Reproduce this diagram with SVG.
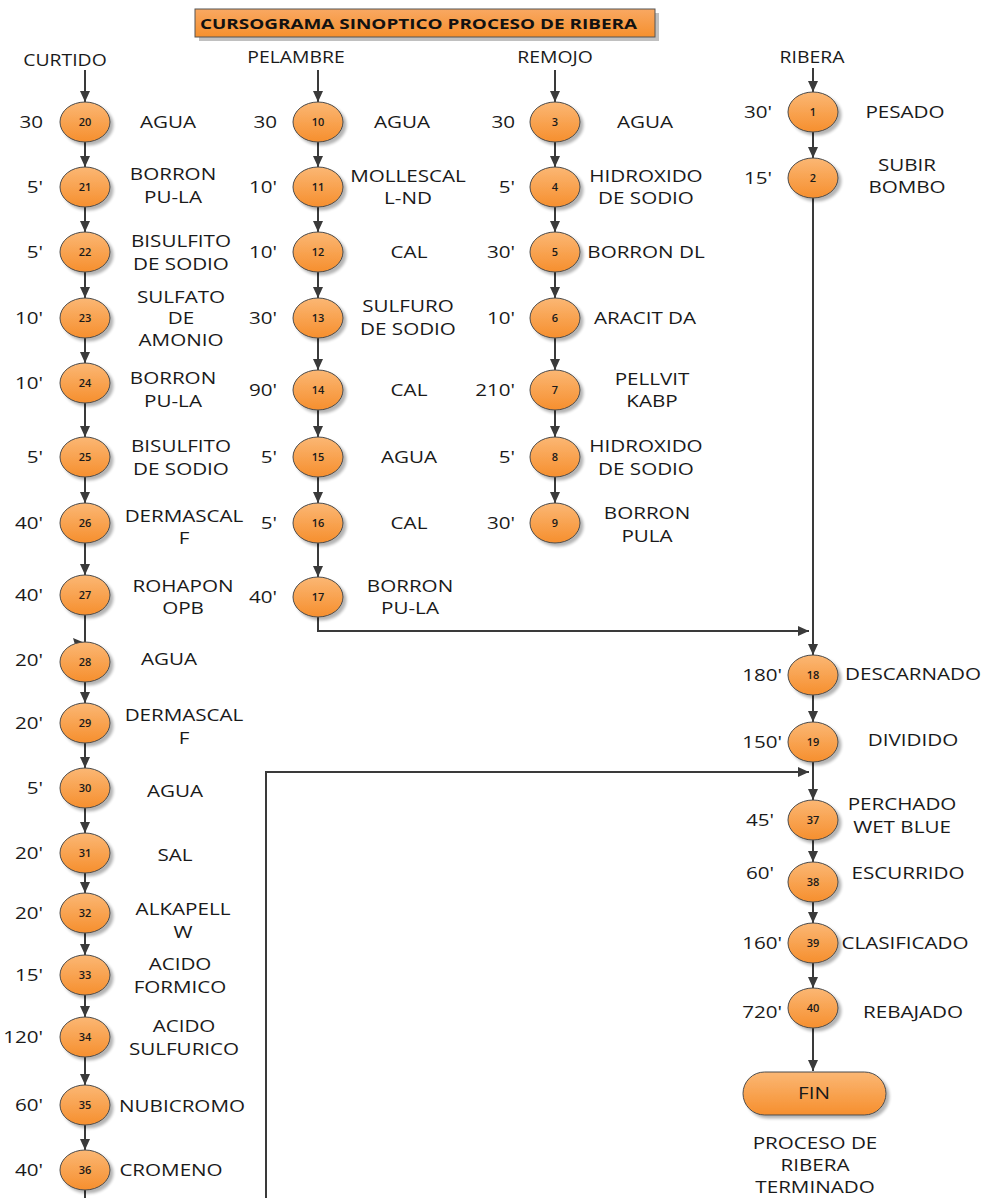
<svg xmlns="http://www.w3.org/2000/svg" width="985" height="1198" viewBox="0 0 985 1198">
  <defs>
    <linearGradient id="og" x1="0" y1="0" x2="0" y2="1">
      <stop offset="0" stop-color="#FBB774"/>
      <stop offset="1" stop-color="#F68F2E"/>
    </linearGradient>
    <linearGradient id="tg" x1="0" y1="0" x2="0" y2="1">
      <stop offset="0" stop-color="#F9A862"/>
      <stop offset="1" stop-color="#F5902E"/>
    </linearGradient>
    <filter id="sh" x="-30%" y="-30%" width="170%" height="170%">
      <feGaussianBlur in="SourceAlpha" stdDeviation="1.5"/>
      <feOffset dx="3" dy="3" result="b"/>
      <feComponentTransfer><feFuncA type="linear" slope="0.3"/></feComponentTransfer>
      <feMerge><feMergeNode/><feMergeNode in="SourceGraphic"/></feMerge>
    </filter>
    <marker id="ah" markerUnits="userSpaceOnUse" markerWidth="12" markerHeight="10" refX="11" refY="5" orient="auto">
      <path d="M0,0 L11,5 L0,10 z" fill="#3A3A3A"/>
    </marker>
  </defs>
  <style>
    .node ellipse, .pill { fill:url(#og); stroke:#4A4A4A; stroke-width:1; filter:url(#sh); }
    .num { font-family:"Open Sans","Liberation Sans",sans-serif; font-size:11px; font-weight:600; fill:#1A1A1A; text-anchor:middle; }
    .lbl { font-family:"Open Sans","Liberation Sans",sans-serif; font-size:16.5px; fill:#1A1A1A; text-anchor:middle; }
    .tm { font-family:"Open Sans","Liberation Sans",sans-serif; font-size:16.5px; fill:#1A1A1A; text-anchor:end; }
    .hd { font-family:"Open Sans","Liberation Sans",sans-serif; font-size:15.5px; fill:#1A1A1A; text-anchor:middle; }
    .conn path, .conn line, .conn polyline { fill:none; stroke:#3A3A3A; stroke-width:2; }
    .arr { marker-end:url(#ah); }
  </style>

  <!-- title banner -->
  <g id="title">
    <rect x="199" y="13" width="460" height="28" fill="#8C8C8C" opacity="0.55"/>
    <rect x="195" y="9" width="460" height="28" fill="url(#tg)" stroke="#555" stroke-width="1"/>
    <text x="200" y="29" textLength="437" lengthAdjust="spacingAndGlyphs" font-family="'Open Sans','Liberation Sans',sans-serif" font-size="15" font-weight="bold" fill="#111">CURSOGRAMA SINOPTICO PROCESO DE RIBERA</text>
  </g>

  <!-- column headers -->
  <g id="headers">
    <text class="hd" transform="translate(65 66) scale(1.25 1)">CURTIDO</text>
    <text class="hd" transform="translate(296 63) scale(1.25 1)">PELAMBRE</text>
    <text class="hd" transform="translate(555 63) scale(1.25 1)">REMOJO</text>
    <text class="hd" transform="translate(812 63) scale(1.25 1)">RIBERA</text>
  </g>

  <!-- connectors -->
  <g id="connectors" class="conn">
    <!-- CURTIDO column -->
    <line class="arr" x1="85" y1="70" x2="85" y2="102"/>
    <line class="arr" x1="85" y1="142" x2="85" y2="167"/>
    <line class="arr" x1="85" y1="207" x2="85" y2="232"/>
    <line class="arr" x1="85" y1="272" x2="85" y2="298"/>
    <line class="arr" x1="85" y1="338" x2="85" y2="363"/>
    <line class="arr" x1="85" y1="403" x2="85" y2="437"/>
    <line class="arr" x1="85" y1="477" x2="85" y2="503"/>
    <line class="arr" x1="85" y1="543" x2="85" y2="575"/>
    <line x1="85" y1="615" x2="85" y2="644"/>
    <polygon points="73,638 85,643 76,648" fill="#3A3A3A" stroke="none"/>
    <line class="arr" x1="85" y1="682" x2="85" y2="703"/>
    <line class="arr" x1="85" y1="743" x2="85" y2="768"/>
    <line class="arr" x1="85" y1="808" x2="85" y2="833"/>
    <line class="arr" x1="85" y1="873" x2="85" y2="893"/>
    <line class="arr" x1="85" y1="933" x2="85" y2="955"/>
    <line class="arr" x1="85" y1="995" x2="85" y2="1017"/>
    <line class="arr" x1="85" y1="1057" x2="85" y2="1085"/>
    <line class="arr" x1="85" y1="1125" x2="85" y2="1150"/>
    <line x1="85" y1="1190" x2="85" y2="1198"/>
    <!-- PELAMBRE column -->
    <line class="arr" x1="318" y1="70" x2="318" y2="102"/>
    <line class="arr" x1="318" y1="142" x2="318" y2="167"/>
    <line class="arr" x1="318" y1="207" x2="318" y2="232"/>
    <line class="arr" x1="318" y1="272" x2="318" y2="298"/>
    <line class="arr" x1="318" y1="338" x2="318" y2="370"/>
    <line class="arr" x1="318" y1="410" x2="318" y2="437"/>
    <line class="arr" x1="318" y1="477" x2="318" y2="503"/>
    <line class="arr" x1="318" y1="543" x2="318" y2="577"/>
    <polyline class="arr" points="318,617 318,631 809,631"/>
    <!-- REMOJO column -->
    <line class="arr" x1="555" y1="70" x2="555" y2="102"/>
    <line class="arr" x1="555" y1="142" x2="555" y2="167"/>
    <line class="arr" x1="555" y1="207" x2="555" y2="232"/>
    <line class="arr" x1="555" y1="272" x2="555" y2="298"/>
    <line class="arr" x1="555" y1="338" x2="555" y2="370"/>
    <line class="arr" x1="555" y1="410" x2="555" y2="437"/>
    <line class="arr" x1="555" y1="477" x2="555" y2="503"/>
    <!-- RIBERA column -->
    <line class="arr" x1="813" y1="68" x2="813" y2="92"/>
    <line class="arr" x1="813" y1="132" x2="813" y2="158"/>
    <line class="arr" x1="813" y1="198" x2="813" y2="655"/>
    <line class="arr" x1="813" y1="695" x2="813" y2="722"/>
    <line class="arr" x1="813" y1="762" x2="813" y2="800"/>
    <line class="arr" x1="813" y1="840" x2="813" y2="862"/>
    <line class="arr" x1="813" y1="902" x2="813" y2="923"/>
    <line class="arr" x1="813" y1="963" x2="813" y2="988"/>
    <line class="arr" x1="813" y1="1028" x2="813" y2="1071"/>
    <!-- return line from the bottom of CURTIDO -->
    <polyline class="arr" points="266,1198 266,772 809,772"/>
  </g>

  <!-- CURTIDO nodes -->
  <g id="n20" class="node"><ellipse cx="85" cy="122" rx="25" ry="20"/><text class="num" x="85" y="126">20</text>
    <text class="tm" transform="translate(43 128) scale(1.25 1)">30</text>
    <text class="lbl" transform="translate(168 128) scale(1.25 1)">AGUA</text></g>
  <g id="n21" class="node"><ellipse cx="85" cy="187" rx="25" ry="20"/><text class="num" x="85" y="191">21</text>
    <text class="tm" transform="translate(43 193) scale(1.25 1)">5'</text>
    <text class="lbl" transform="translate(173 180) scale(1.25 1)"><tspan x="0">BORRON</tspan><tspan x="0" dy="23">PU-LA</tspan></text></g>
  <g id="n22" class="node"><ellipse cx="85" cy="252" rx="25" ry="20"/><text class="num" x="85" y="256">22</text>
    <text class="tm" transform="translate(43 258) scale(1.25 1)">5'</text>
    <text class="lbl" transform="translate(181 247) scale(1.25 1)"><tspan x="0">BISULFITO</tspan><tspan x="0" dy="23">DE SODIO</tspan></text></g>
  <g id="n23" class="node"><ellipse cx="85" cy="318" rx="25" ry="20"/><text class="num" x="85" y="322">23</text>
    <text class="tm" transform="translate(43 324) scale(1.25 1)">10'</text>
    <text class="lbl" transform="translate(181 303) scale(1.25 1)"><tspan x="0">SULFATO</tspan><tspan x="0" dy="21.5">DE</tspan><tspan x="0" dy="21.5">AMONIO</tspan></text></g>
  <g id="n24" class="node"><ellipse cx="85" cy="383" rx="25" ry="20"/><text class="num" x="85" y="387">24</text>
    <text class="tm" transform="translate(43 389) scale(1.25 1)">10'</text>
    <text class="lbl" transform="translate(173 384) scale(1.25 1)"><tspan x="0">BORRON</tspan><tspan x="0" dy="23">PU-LA</tspan></text></g>
  <g id="n25" class="node"><ellipse cx="85" cy="457" rx="25" ry="20"/><text class="num" x="85" y="461">25</text>
    <text class="tm" transform="translate(43 463) scale(1.25 1)">5'</text>
    <text class="lbl" transform="translate(181 452) scale(1.25 1)"><tspan x="0">BISULFITO</tspan><tspan x="0" dy="23">DE SODIO</tspan></text></g>
  <g id="n26" class="node"><ellipse cx="85" cy="523" rx="25" ry="20"/><text class="num" x="85" y="527">26</text>
    <text class="tm" transform="translate(43 529) scale(1.25 1)">40'</text>
    <text class="lbl" transform="translate(184 522) scale(1.25 1)"><tspan x="0">DERMASCAL</tspan><tspan x="0" dy="22">F</tspan></text></g>
  <g id="n27" class="node"><ellipse cx="85" cy="595" rx="25" ry="20"/><text class="num" x="85" y="599">27</text>
    <text class="tm" transform="translate(43 601) scale(1.25 1)">40'</text>
    <text class="lbl" transform="translate(183 592) scale(1.25 1)"><tspan x="0">ROHAPON</tspan><tspan x="0" dy="22">OPB</tspan></text></g>
  <g id="n28" class="node"><ellipse cx="85" cy="662" rx="25" ry="20"/><text class="num" x="85" y="666">28</text>
    <text class="tm" transform="translate(43 666) scale(1.25 1)">20'</text>
    <text class="lbl" transform="translate(169 665) scale(1.25 1)">AGUA</text></g>
  <g id="n29" class="node"><ellipse cx="85" cy="723" rx="25" ry="20"/><text class="num" x="85" y="727">29</text>
    <text class="tm" transform="translate(43 729) scale(1.25 1)">20'</text>
    <text class="lbl" transform="translate(184 721) scale(1.25 1)"><tspan x="0">DERMASCAL</tspan><tspan x="0" dy="23">F</tspan></text></g>
  <g id="n30" class="node"><ellipse cx="85" cy="788" rx="25" ry="20"/><text class="num" x="85" y="792">30</text>
    <text class="tm" transform="translate(43 794) scale(1.25 1)">5'</text>
    <text class="lbl" transform="translate(175 797) scale(1.25 1)">AGUA</text></g>
  <g id="n31" class="node"><ellipse cx="85" cy="853" rx="25" ry="20"/><text class="num" x="85" y="857">31</text>
    <text class="tm" transform="translate(43 859) scale(1.25 1)">20'</text>
    <text class="lbl" transform="translate(175 861) scale(1.25 1)">SAL</text></g>
  <g id="n32" class="node"><ellipse cx="85" cy="913" rx="25" ry="20"/><text class="num" x="85" y="917">32</text>
    <text class="tm" transform="translate(43 919) scale(1.25 1)">20'</text>
    <text class="lbl" transform="translate(183 915) scale(1.25 1)"><tspan x="0">ALKAPELL</tspan><tspan x="0" dy="23">W</tspan></text></g>
  <g id="n33" class="node"><ellipse cx="85" cy="975" rx="25" ry="20"/><text class="num" x="85" y="979">33</text>
    <text class="tm" transform="translate(43 981) scale(1.25 1)">15'</text>
    <text class="lbl" transform="translate(180 970) scale(1.25 1)"><tspan x="0">ACIDO</tspan><tspan x="0" dy="23">FORMICO</tspan></text></g>
  <g id="n34" class="node"><ellipse cx="85" cy="1037" rx="25" ry="20"/><text class="num" x="85" y="1041">34</text>
    <text class="tm" transform="translate(43 1043) scale(1.25 1)">120'</text>
    <text class="lbl" transform="translate(184 1032) scale(1.25 1)"><tspan x="0">ACIDO</tspan><tspan x="0" dy="23">SULFURICO</tspan></text></g>
  <g id="n35" class="node"><ellipse cx="85" cy="1105" rx="25" ry="20"/><text class="num" x="85" y="1109">35</text>
    <text class="tm" transform="translate(43 1111) scale(1.25 1)">60'</text>
    <text class="lbl" transform="translate(182 1112) scale(1.25 1)">NUBICROMO</text></g>
  <g id="n36" class="node"><ellipse cx="85" cy="1170" rx="25" ry="20"/><text class="num" x="85" y="1174">36</text>
    <text class="tm" transform="translate(43 1176) scale(1.25 1)">40'</text>
    <text class="lbl" transform="translate(171 1176) scale(1.25 1)">CROMENO</text></g>

  <!-- PELAMBRE nodes -->
  <g id="n10" class="node"><ellipse cx="318" cy="122" rx="25" ry="20"/><text class="num" x="318" y="126">10</text>
    <text class="tm" transform="translate(277 128) scale(1.25 1)">30</text>
    <text class="lbl" transform="translate(402 128) scale(1.25 1)">AGUA</text></g>
  <g id="n11" class="node"><ellipse cx="318" cy="187" rx="25" ry="20"/><text class="num" x="318" y="191">11</text>
    <text class="tm" transform="translate(277 193) scale(1.25 1)">10'</text>
    <text class="lbl" transform="translate(408 182) scale(1.25 1)"><tspan x="0">MOLLESCAL</tspan><tspan x="0" dy="22">L-ND</tspan></text></g>
  <g id="n12" class="node"><ellipse cx="318" cy="252" rx="25" ry="20"/><text class="num" x="318" y="256">12</text>
    <text class="tm" transform="translate(277 258) scale(1.25 1)">10'</text>
    <text class="lbl" transform="translate(409 258) scale(1.25 1)">CAL</text></g>
  <g id="n13" class="node"><ellipse cx="318" cy="318" rx="25" ry="20"/><text class="num" x="318" y="322">13</text>
    <text class="tm" transform="translate(277 324) scale(1.25 1)">30'</text>
    <text class="lbl" transform="translate(408 312) scale(1.25 1)"><tspan x="0">SULFURO</tspan><tspan x="0" dy="23">DE SODIO</tspan></text></g>
  <g id="n14" class="node"><ellipse cx="318" cy="390" rx="25" ry="20"/><text class="num" x="318" y="394">14</text>
    <text class="tm" transform="translate(277 396) scale(1.25 1)">90'</text>
    <text class="lbl" transform="translate(409 396) scale(1.25 1)">CAL</text></g>
  <g id="n15" class="node"><ellipse cx="318" cy="457" rx="25" ry="20"/><text class="num" x="318" y="461">15</text>
    <text class="tm" transform="translate(277 463) scale(1.25 1)">5'</text>
    <text class="lbl" transform="translate(409 463) scale(1.25 1)">AGUA</text></g>
  <g id="n16" class="node"><ellipse cx="318" cy="523" rx="25" ry="20"/><text class="num" x="318" y="527">16</text>
    <text class="tm" transform="translate(277 529) scale(1.25 1)">5'</text>
    <text class="lbl" transform="translate(409 529) scale(1.25 1)">CAL</text></g>
  <g id="n17" class="node"><ellipse cx="318" cy="597" rx="25" ry="20"/><text class="num" x="318" y="601">17</text>
    <text class="tm" transform="translate(277 603) scale(1.25 1)">40'</text>
    <text class="lbl" transform="translate(410 592) scale(1.25 1)"><tspan x="0">BORRON</tspan><tspan x="0" dy="22">PU-LA</tspan></text></g>

  <!-- REMOJO nodes -->
  <g id="n3" class="node"><ellipse cx="555" cy="122" rx="25" ry="20"/><text class="num" x="555" y="126">3</text>
    <text class="tm" transform="translate(515 128) scale(1.25 1)">30</text>
    <text class="lbl" transform="translate(645 128) scale(1.25 1)">AGUA</text></g>
  <g id="n4" class="node"><ellipse cx="555" cy="187" rx="25" ry="20"/><text class="num" x="555" y="191">4</text>
    <text class="tm" transform="translate(515 193) scale(1.25 1)">5'</text>
    <text class="lbl" transform="translate(646 182) scale(1.25 1)"><tspan x="0">HIDROXIDO</tspan><tspan x="0" dy="22">DE SODIO</tspan></text></g>
  <g id="n5" class="node"><ellipse cx="555" cy="252" rx="25" ry="20"/><text class="num" x="555" y="256">5</text>
    <text class="tm" transform="translate(515 258) scale(1.25 1)">30'</text>
    <text class="lbl" transform="translate(646 258) scale(1.25 1)">BORRON DL</text></g>
  <g id="n6" class="node"><ellipse cx="555" cy="318" rx="25" ry="20"/><text class="num" x="555" y="322">6</text>
    <text class="tm" transform="translate(515 324) scale(1.25 1)">10'</text>
    <text class="lbl" transform="translate(645 324) scale(1.25 1)">ARACIT DA</text></g>
  <g id="n7" class="node"><ellipse cx="555" cy="390" rx="25" ry="20"/><text class="num" x="555" y="394">7</text>
    <text class="tm" transform="translate(515 396) scale(1.25 1)">210'</text>
    <text class="lbl" transform="translate(652 385) scale(1.25 1)"><tspan x="0">PELLVIT</tspan><tspan x="0" dy="22">KABP</tspan></text></g>
  <g id="n8" class="node"><ellipse cx="555" cy="457" rx="25" ry="20"/><text class="num" x="555" y="461">8</text>
    <text class="tm" transform="translate(515 463) scale(1.25 1)">5'</text>
    <text class="lbl" transform="translate(646 452) scale(1.25 1)"><tspan x="0">HIDROXIDO</tspan><tspan x="0" dy="23">DE SODIO</tspan></text></g>
  <g id="n9" class="node"><ellipse cx="555" cy="523" rx="25" ry="20"/><text class="num" x="555" y="527">9</text>
    <text class="tm" transform="translate(515 529) scale(1.25 1)">30'</text>
    <text class="lbl" transform="translate(647 519) scale(1.25 1)"><tspan x="0">BORRON</tspan><tspan x="0" dy="23">PULA</tspan></text></g>

  <!-- RIBERA nodes -->
  <g id="n1" class="node"><ellipse cx="813" cy="112" rx="25" ry="20"/><text class="num" x="813" y="116">1</text>
    <text class="tm" transform="translate(772 118) scale(1.25 1)">30'</text>
    <text class="lbl" transform="translate(905 118) scale(1.25 1)">PESADO</text></g>
  <g id="n2" class="node"><ellipse cx="813" cy="178" rx="25" ry="20"/><text class="num" x="813" y="182">2</text>
    <text class="tm" transform="translate(772 184) scale(1.25 1)">15'</text>
    <text class="lbl" transform="translate(907 171) scale(1.25 1)"><tspan x="0">SUBIR</tspan><tspan x="0" dy="22">BOMBO</tspan></text></g>
  <g id="n18" class="node"><ellipse cx="813" cy="675" rx="25" ry="20"/><text class="num" x="813" y="679">18</text>
    <text class="tm" transform="translate(782 681) scale(1.25 1)">180'</text>
    <text class="lbl" transform="translate(913 680) scale(1.25 1)">DESCARNADO</text></g>
  <g id="n19" class="node"><ellipse cx="813" cy="742" rx="25" ry="20"/><text class="num" x="813" y="746">19</text>
    <text class="tm" transform="translate(782 748) scale(1.25 1)">150'</text>
    <text class="lbl" transform="translate(913 746) scale(1.25 1)">DIVIDIDO</text></g>
  <g id="n37" class="node"><ellipse cx="813" cy="820" rx="25" ry="20"/><text class="num" x="813" y="824">37</text>
    <text class="tm" transform="translate(774 826) scale(1.25 1)">45'</text>
    <text class="lbl" transform="translate(902 810) scale(1.25 1)"><tspan x="0">PERCHADO</tspan><tspan x="0" dy="23">WET BLUE</tspan></text></g>
  <g id="n38" class="node"><ellipse cx="813" cy="882" rx="25" ry="20"/><text class="num" x="813" y="886">38</text>
    <text class="tm" transform="translate(774 879) scale(1.25 1)">60'</text>
    <text class="lbl" transform="translate(908 879) scale(1.25 1)">ESCURRIDO</text></g>
  <g id="n39" class="node"><ellipse cx="813" cy="943" rx="25" ry="20"/><text class="num" x="813" y="947">39</text>
    <text class="tm" transform="translate(782 949) scale(1.25 1)">160'</text>
    <text class="lbl" transform="translate(905 949) scale(1.25 1)">CLASIFICADO</text></g>
  <g id="n40" class="node"><ellipse cx="813" cy="1008" rx="25" ry="20"/><text class="num" x="813" y="1012">40</text>
    <text class="tm" transform="translate(782 1018) scale(1.25 1)">720'</text>
    <text class="lbl" transform="translate(913 1018) scale(1.25 1)">REBAJADO</text></g>

  <!-- terminal -->
  <g id="fin">
    <rect class="pill" x="743" y="1072" width="143" height="43" rx="21.5" ry="21.5"/>
    <text class="lbl" transform="translate(814 1099) scale(1.25 1)">FIN</text>
    <text class="lbl" transform="translate(815 1149) scale(1.25 1)"><tspan x="0">PROCESO DE</tspan><tspan x="0" dy="22">RIBERA</tspan><tspan x="0" dy="22">TERMINADO</tspan></text>
  </g>
</svg>
